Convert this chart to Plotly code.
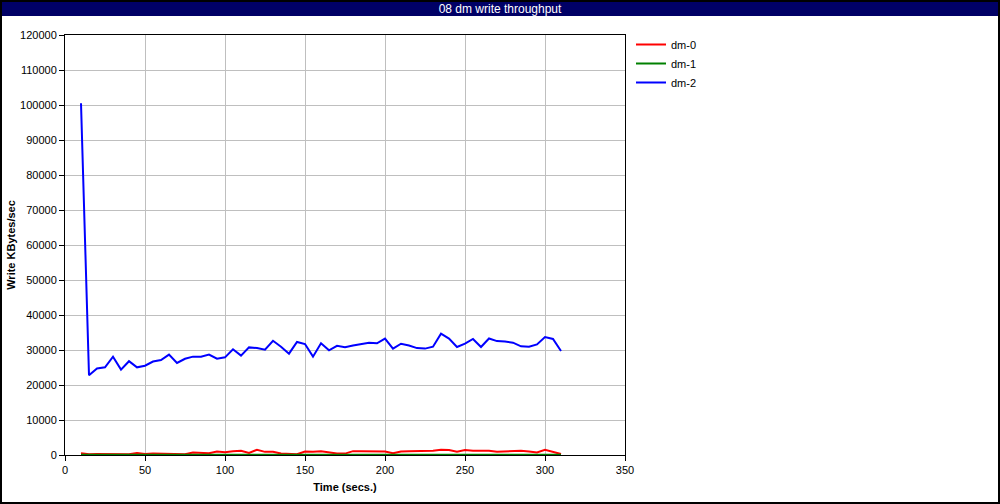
import plotly.graph_objects as go

time_s = list(range(10, 315, 5))

dm0 = [500, 200, 300, 300, 200, 200, 200, 600, 300, 400, 300, 300, 200, 200, 700, 500,
       500, 1000, 800, 1100, 1200, 600, 1500, 900, 900, 400, 200, 200, 1000, 900, 1100,
       700, 400, 400, 1100, 1100, 1000, 1100, 1000, 500, 1000, 1100, 1100, 1200, 1200,
       1500, 1400, 900, 1400, 1200, 1200, 1200, 900, 1000, 1100, 1200, 1000, 700, 1500,
       1000, 300]

dm1 = [50] * len(time_s)

dm2 = [100500, 22800, 24700, 25050, 28100, 24400, 26800, 25050, 25500, 26700, 27150,
       28700, 26300, 27500, 28100, 28100, 28700, 27500, 27900, 30200, 28400, 30750,
       30550, 30100, 32650, 30950, 28950, 32300, 31700, 28100, 31900, 29900, 31200,
       30800, 31300, 31700, 32100, 31900, 33250, 30400, 31800, 31300, 30550, 30400,
       30950, 34650, 33250, 30850, 31800, 33150, 30850, 33300, 32550, 32400, 32100,
       31050, 30950, 31600, 33700, 33150, 29700]

series = [("dm-0", dm0, "#ff0000"), ("dm-1", dm1, "#008000"), ("dm-2", dm2, "#0000ff")]

y_ticks = list(range(0, 120001, 10000))
x_ticks = list(range(0, 351, 50))

fig = go.Figure()
for name, vals, color in series:
    fig.add_trace(go.Scatter(x=time_s, y=vals, name=name, mode="lines",
                             line=dict(color=color, width=2)))

W, H = 1000, 504
L, R, T, B = 65, 375, 35, 49
pw, ph = W - L - R, H - T - B

def px(x):
    return (x - L) / pw

def py(y):
    return (H - B - y) / ph

font = "Liberation Sans, Arial, sans-serif"

fig.update_layout(
    width=W, height=H,
    margin=dict(l=L, r=R, t=T, b=B, pad=0, autoexpand=False),
    paper_bgcolor="white", plot_bgcolor="white",
    font=dict(family=font, size=11, color="black"),
    title=dict(text="08 dm write throughput", x=0.5, xref="container", xanchor="center",
               y=1 - 8.5 / H, yref="container", yanchor="middle",
               font=dict(family=font, size=12, color="white")),
    showlegend=True,
    legend=dict(x=px(631), y=py(30), xanchor="left", yanchor="top",
                font=dict(family=font, size=11), itemwidth=30,
                bgcolor="rgba(0,0,0,0)", tracegroupgap=0),
    xaxis=dict(range=[0, 350], tickvals=x_ticks, showgrid=True, gridcolor="#bfbfbf",
               gridwidth=1, showline=True, linecolor="black", linewidth=1, mirror=True,
               ticks="outside", ticklen=5, tickcolor="black", zeroline=False,
               automargin=False,
               title=dict(text="<b>Time (secs.)</b>", standoff=8,
                          font=dict(family=font, size=11))),
    yaxis=dict(range=[0, 120000], tickvals=y_ticks, tickformat="d", showgrid=True,
               gridcolor="#bfbfbf", gridwidth=1, showline=True, linecolor="black",
               linewidth=1, mirror=True, ticks="outside", ticklen=5, tickcolor="black",
               zeroline=False, automargin=False,
               title=dict(text="<b>Write KBytes/sec</b>", standoff=2,
                          font=dict(family=font, size=11))),
    shapes=[
        dict(type="rect", xref="paper", yref="paper", x0=px(0), x1=px(W), y0=py(1), y1=py(16),
             fillcolor="#000066", line=dict(width=0), layer="below"),
        dict(type="rect", xref="paper", yref="paper", x0=px(1), x1=px(W - 1), y0=py(H - 1), y1=py(1),
             fillcolor="rgba(0,0,0,0)", line=dict(color="black", width=2)),
    ],
)

fig.write_html("out.html", config={"displayModeBar": False},
               post_script="document.body.style.margin='0';document.body.style.overflow='hidden';")
